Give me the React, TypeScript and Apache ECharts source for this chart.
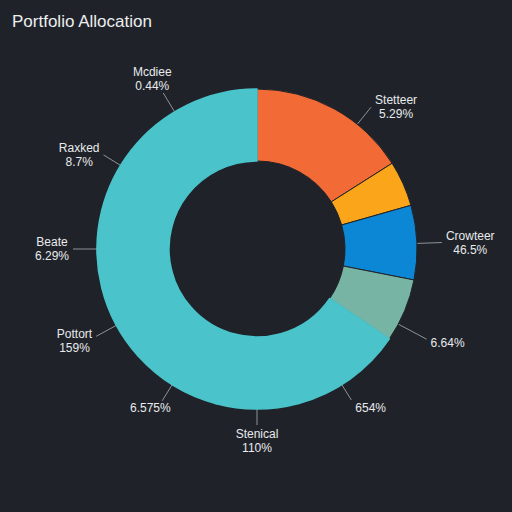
import React, { useEffect, useRef } from "react";
import * as echarts from "echarts";

const title = "Portfolio Allocation";
const sliceIds = ["s1", "s2", "s3", "s4", "s5", "s6", "s7", "s8", "s9", "s10", "s11"];
const labelNames = ["Stetteer", "", "Crowteer", "", "", "Stenical", "", "Pottort", "Beate", "Raxked", "Mcdiee"];
const labelPercents = ["5.29%", "", "46.5%", "6.64%", "654%", "110%", "6.575%", "159%", "6.29%", "8.7%", "0.44%"];
const values = [16.0, 4.6, 7.5, 6.4, 11.3, 8.3, 9.2, 7.8, 7.8, 6.7, 14.4];

// label styling (not data): where each label line leaves the ring, its length and how the text sits
const labelAngles = [38.8, 0, 88, 118, 148, 180, 212, 241.5, 270, 301.5, 329];
const lineLengths = [22, 0, 25, 32, 18, 16, 19, 23, 24, 20, 22];
const labelModes = ["side", "", "side", "side", "side", "radial", "radial", "side", "side", "side", "radial"];
const colors = ["#f26a36", "#fba61a", "#0b87d6", "#78b4a3", "#4ac4ca", "#4ac4ca", "#4ac4ca", "#4ac4ca", "#4ac4ca", "#4ac4ca", "#4ac4ca"];

const BG = "#1f2329";
const CX = 257, CY = 249, R_IN = 88, R_OUT = 160;

export default function App() {
  const ref = useRef<HTMLDivElement>(null);
  useEffect(() => {
    if (!ref.current) return;
    const chart = echarts.init(ref.current, null, { renderer: "svg" });
    const data = values.map((v, i) => {
      const hasLabel = labelPercents[i] !== "";
      const isCyan = i >= 4;
      return {
        name: sliceIds[i],
        value: v,
        itemStyle: {
          color: colors[i],
          borderColor: isCyan ? colors[i] : BG,
          borderWidth: isCyan ? 1.5 : 1,
        },
        label: {
          show: hasLabel,
          formatter: labelNames[i] ? labelNames[i] + "\n" + labelPercents[i] : labelPercents[i],
        },
        labelLine: { show: hasLabel, length: lineLengths[i], length2: 0 },
      };
    });
    chart.setOption({
      animation: false,
      backgroundColor: BG,
      title: {
        text: title,
        left: 7,
        top: 8,
        textStyle: {
          color: "#eceef0",
          fontSize: 17,
          fontWeight: "normal",
          fontFamily: "Liberation Sans, Arial, sans-serif",
        },
      },
      series: [
        {
          type: "pie",
          center: [CX, CY],
          radius: [R_IN, R_OUT],
          startAngle: 90,
          clockwise: true,
          avoidLabelOverlap: false,
          data,
          label: {
            show: true,
            position: "outside",
            color: "#e8eaec",
            fontSize: 12,
            lineHeight: 14,
            align: "center",
            fontFamily: "Liberation Sans, Arial, sans-serif",
          },
          labelLine: {
            show: true,
            length: 20,
            length2: 0,
            lineStyle: { color: "#8d939b", width: 1 },
          },
          labelLayout: (p: any) => {
            const i = p.dataIndex;
            if (!labelModes[i]) return {};
            const a = (labelAngles[i] * Math.PI) / 180;
            const ux = Math.sin(a), uy = -Math.cos(a);
            const x0 = CX + R_OUT * ux, y0 = CY + R_OUT * uy;
            const len = lineLengths[i];
            const x1 = CX + (R_OUT + len) * ux, y1 = CY + (R_OUT + len) * uy;
            const w = p.labelRect.width, h = p.labelRect.height;
            if (labelModes[i] === "side") {
              return {
                x: x1 + (ux > 0 ? 1 : -1) * (4 + w / 2),
                y: y1 + Math.max(uy, 0) * 9,
                align: "center",
                verticalAlign: "middle",
                labelLinePoints: [[x0, y0], [x1, y1]],
              };
            }
            return {
              x: x1 + ux * (w / 2 + 2),
              y: y1 + uy * (h / 2 + 2),
              align: "center",
              verticalAlign: "middle",
              labelLinePoints: [[x0, y0], [x1, y1]],
            };
          },
          emphasis: { disabled: true },
        },
      ],
    });
    return () => chart.dispose();
  }, []);
  return (
    <div style={{ position: "fixed", left: 0, top: 0, width: 512, height: 512 }}>
      <div ref={ref} style={{ width: 512, height: 512 }} />
    </div>
  );
}
